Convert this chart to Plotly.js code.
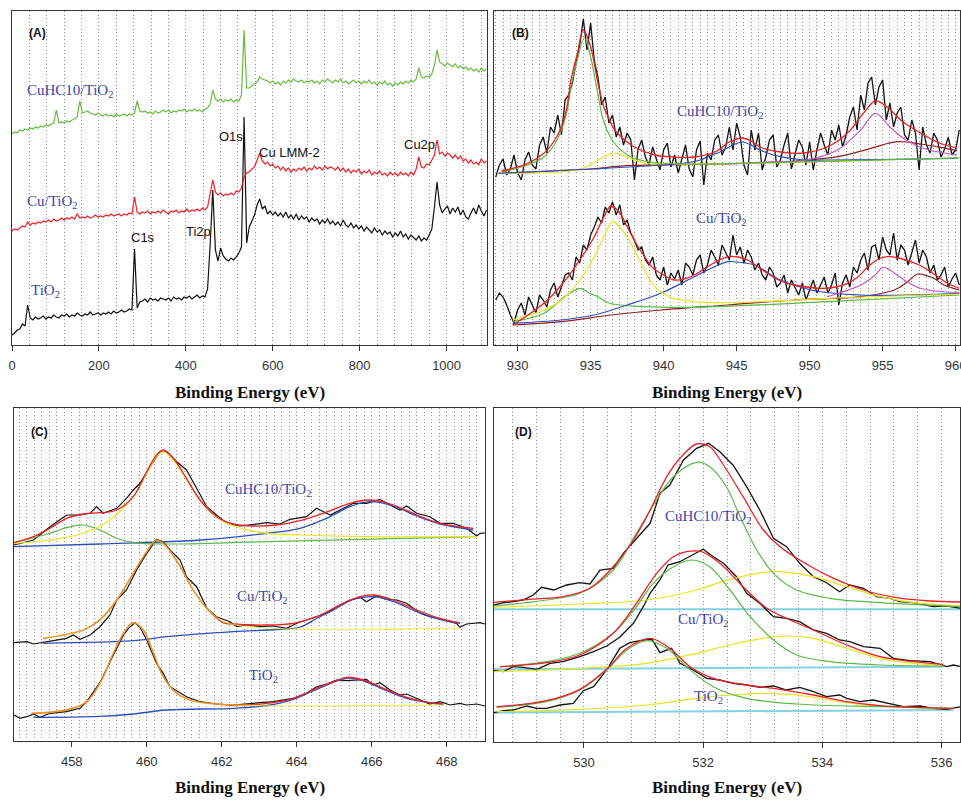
<!DOCTYPE html>
<html><head><meta charset="utf-8">
<script src="https://cdn.plot.ly/plotly-3.0.1.min.js"></script>
<style>html,body{margin:0;padding:0;background:#fff}#chart{width:961px;height:802px}</style>
</head><body><div id="chart"></div>
<script>
// ---------- Panel A: survey spectra (energy grid every 6 eV, 0..1092) ----------
const aEnergy = Array.from({length:183}, (_, i) => i * 6);
const aTiO2 = [10,12,15,16,21,19,40,27,25,28,
26,27,29,26,28,27,30,28,27,30,
29,31,28,30,29,32,30,29,31,30,
33,30,31,32,30,32,31,33,31,34,
32,33,35,33,34,36,35,96,37,43,
44,46,43,47,45,46,44,47,46,45,
47,44,48,46,47,45,48,47,49,46,
48,50,47,49,48,56,100,155,95,84,
97,89,86,84,87,85,88,92,98,228,
102,118,124,130,140,146,136,139,131,134,
130,133,129,132,128,133,127,130,126,131,
125,129,126,128,123,127,124,126,121,125,
122,126,121,124,120,123,119,125,120,118,
122,117,120,116,119,114,118,115,112,117,
113,115,110,114,111,113,108,112,109,114,
108,111,106,110,107,105,109,104,107,105,
110,116,138,163,140,132,136,139,131,137,
133,138,130,135,128,126,132,137,131,140,
134,129,135];
const aCuTiO2 = [114,116,115,117,119,118,123,120,122,121,
123,122,124,123,125,123,126,124,125,127,
125,127,126,128,126,131,127,128,127,129,
127,128,130,128,129,128,130,129,131,129,
130,131,129,131,130,132,131,148,133,131,
133,132,134,131,133,132,134,132,135,133,
131,134,133,135,132,134,133,136,133,135,
134,136,134,137,135,138,150,165,153,150,
152,149,151,150,152,150,154,153,157,168,
172,173,176,178,185,192,184,181,183,179,
181,177,179,175,178,174,177,173,176,174,
177,175,178,174,177,175,179,176,178,175,
179,176,178,177,175,178,174,177,173,176,
172,175,173,176,171,174,172,175,170,173,
171,174,170,172,169,173,170,172,169,173,
170,172,169,173,170,176,188,178,177,181,
180,185,190,205,191,193,189,192,190,187,
190,186,189,184,186,182,185,181,183,180,
186,182,184];
const aCuHC10 = [211,213,212,215,214,216,215,217,216,218,
217,219,218,220,219,221,222,235,222,223,
222,224,223,225,226,228,244,232,233,234,
232,231,230,232,230,229,231,229,230,228,
231,229,230,231,229,231,230,232,244,234,
233,234,232,233,231,234,232,233,235,233,
235,232,234,233,235,234,236,233,235,234,
236,234,235,233,236,237,241,255,246,244,
246,243,245,244,246,243,245,244,250,315,
257,257,259,261,263,268,266,265,264,262,
264,261,263,260,264,262,265,263,266,264,
263,265,262,264,263,265,262,264,261,265,
263,266,264,262,265,263,266,262,264,261,
263,265,262,264,261,264,262,265,261,263,
260,263,261,264,260,262,259,262,260,263,
261,264,262,265,263,266,277,268,267,269,
268,271,280,295,283,281,279,282,280,278,
281,277,279,276,278,275,277,274,276,273,
277,274,276];

// ---------- Panel B: Cu2p (grid every 0.25 eV, 928.5..960.25) ----------
const bEnergy = Array.from({length:128}, (_, i) => 928.5 + i * 0.25);
const bCuhcRaw = [168,180,186,170,176,190,172,165,185,193,
180,176,200,208,192,218,212,230,210,245,
250,262,282,300,326,295,322,284,268,240,
248,222,230,208,218,200,212,205,165,196,
205,188,180,198,186,175,195,202,178,190,
172,185,200,176,168,195,204,160,192,185,
205,210,190,198,218,195,222,208,180,170,
215,195,212,175,188,205,210,178,185,200,
212,176,190,205,198,180,203,175,195,212,
200,190,215,205,220,198,210,228,238,215,
250,235,262,268,240,258,265,225,242,218,
232,238,210,205,225,212,175,218,200,192,
212,205,188,196,208,190,195,215];
const bCuRaw = [45,52,48,40,30,22,35,42,30,48,
40,32,50,45,38,55,62,48,58,70,
72,65,88,82,100,95,110,118,128,122,
138,132,143,130,140,120,125,112,105,95,
98,85,80,88,70,65,78,60,72,66,
75,60,82,78,70,85,90,72,80,95,
88,80,100,92,85,110,90,98,82,95,
88,75,82,70,65,78,72,58,62,70,
52,65,58,50,62,45,55,65,52,60,
68,52,60,72,40,62,70,58,78,72,
85,92,75,98,100,85,108,95,90,112,
85,100,95,80,92,105,82,95,88,72,
80,65,70,78,58,66,72,60];
const bCuhcEnvelope = [[928.9,174],[930.7,181.7],[931.8,191.7],[932.5,204],[933.0,218],[933.4,240],[933.65,265],[934.1,292],[934.5,315],[935.0,298],[935.5,262],[935.9,238],[936.2,228],[936.6,216],[937.1,208],[938.0,198],[939.4,190],[940.7,188],[942.1,188],[943.5,193],[944.5,203],[945.4,207],[946.0,204],[946.6,198],[948.0,193],[949.6,192],[951.2,198],[952.6,212],[953.7,232],[954.5,244],[955.3,238],[956.4,223],[957.6,212],[958.9,202],[960.1,197]];
const bCuhcCu1 = [[928.9,173],[930.7,180],[931.8,188],[932.5,200],[933.0,215],[933.4,235],[933.65,258],[934.1,286],[934.56,307],[935.0,288],[935.48,252],[935.93,222],[936.62,202],[937.53,190],[938.67,184],[939.8,182],[942.1,181],[944.8,181.5],[950,183.3],[955,185.2],[960.25,187.2]];
const bCuhcCu2 = [[928.7,171.7],[932.97,173],[934.5,177],[935.2,182],[935.9,188],[936.6,192],[937.5,188],[938.67,182],[939.8,181],[944.8,181.5],[950,183],[955,185],[960.25,187]];
const bCuhcSat1 = [[928.7,171.7],[935,176],[940,180],[941.5,182],[942.5,185],[943.3,190],[943.9,193.3],[944.6,199],[945.4,203],[946.1,199],[946.6,195],[947.3,191],[948,188.3],[949.6,185],[951.2,185],[955,185.5],[960.1,186.7]];
const bCuhcCu3 = [[944.8,181.5],[947,183],[949.6,184.5],[951.9,195],[953.5,215],[954.5,231.7],[955.5,218],[956.6,205],[958,195.7],[960.1,190]];
const bCuhcSat2 = [[928.7,171.7],[935,176],[937.5,179.3],[943.9,181],[948.4,183.3],[951.9,188.3],[954.2,196.7],[956,203.3],[957.6,201],[959,197.7],[960.1,194.3]];
const bCuEnvelope = [[929.66,20],[930.5,28],[931.8,41.7],[933,60],[934.1,81.7],[935.25,108.3],[935.9,128],[936.4,139],[937,132],[937.5,118.3],[938.1,102],[938.7,88.3],[939.2,78],[939.8,71.7],[940.7,65],[941.4,66],[942.1,70],[943.2,80],[944.4,88.3],[945.1,88],[945.75,85],[947.1,71.7],[948.0,64],[948.95,60],[950.8,56.7],[951.8,58],[952.6,61.7],[953.3,68],[954,78.3],[954.6,85],[955.3,88.3],[956.1,87],[956.9,83.3],[957.5,80],[958.1,75],[958.8,68],[959.45,61.7],[960.25,56.7]];
const bCuCu2 = [[929.66,25],[931.8,35],[933,45],[934.1,61.7],[935.25,88.3],[935.9,108],[936.5,123.3],[937,118],[937.5,108.3],[938.1,92],[938.7,75],[939.2,62],[939.8,53.3],[940.6,47],[941.2,45],[943.2,42.3],[946.7,43.3],[951.2,46.7],[960.25,51]];
const bCuCu1 = [[929.66,23.3],[931.8,31.7],[933.2,48.3],[933.7,53],[934.3,56.7],[934.9,52],[935.5,48.3],[936.3,41.7],[938.7,38.3],[942.1,37.7],[951.2,43.3],[960.25,50]];
const bCuSat1 = [[929.66,21.7],[932.97,25],[935.25,30],[937.5,40],[939.8,51.7],[942.1,68.3],[943.3,77],[944.4,83.3],[945.0,83],[946.2,80],[948.0,65],[950.1,55],[953.5,50],[960.25,51.7]];
const bCuSat2 = [[929.66,20],[932.97,23.3],[936.4,30],[939.8,35],[944.4,40],[948.95,45],[953.5,48.3],[955.8,55],[956.7,63],[957.4,71],[958.1,69],[958.5,66.7],[959.2,60],[960.25,55]];
const bCuCu3 = [[951.2,48.3],[953.5,60],[954.5,70],[955.0,77.7],[955.5,75],[956.3,66.7],[957.6,56.7],[960.25,52.3]];

// ---------- Panel C: Ti2p ----------
const cCuhcRaw = [[456.46,196],[456.98,201],[457.42,214.3],[457.69,221],[457.86,226],[458.22,226],[458.49,227.7],[458.66,234.3],[458.84,227.7],[459.2,232.7],[459.46,242.7],[459.64,251],[459.82,257.7],[460.09,274.3],[460.35,289.3],[460.53,289.3],[460.8,279.3],[461.06,271],[461.33,252.7],[461.6,234.3],[461.86,226],[462.13,217.7],[462.49,215],[462.84,217],[463.2,218.3],[463.55,217],[463.82,221.7],[464.26,224.3],[464.53,232.7],[464.89,226],[465.15,231],[465.51,237.7],[465.86,237.7],[466.22,241.7],[466.49,236],[466.75,231],[466.93,235],[467.2,227.7],[467.55,224.3],[467.82,217.7],[468.18,217.7],[468.53,212.7],[468.8,205],[468.89,207.7],[469.02,208]];
const cCuhcEnvelope = [[456.46,198.3],[456.98,204.3],[457.42,212.7],[457.86,222.7],[458.31,227],[458.75,228.3],[459.2,231],[459.64,244.3],[460.0,269.3],[460.26,286],[460.44,291],[460.71,282.7],[461.06,262.7],[461.42,241],[461.86,224.3],[462.31,217],[462.84,215],[463.46,216],[464.09,220.3],[464.71,227.7],[465.42,237.7],[465.96,241],[466.58,236],[467.2,226],[467.82,217.7],[468.71,212.7]];
const cCuhcTi4 = [[456.46,197.7],[457.42,201],[458.31,207.7],[459.02,221],[459.64,244.3],[460.0,267.7],[460.26,284.3],[460.44,289.3],[460.71,281],[461.06,261],[461.42,241],[461.86,224.3],[462.31,215],[463.2,207.7],[464.09,206],[465.86,204.3],[468.8,204.3]];
const cCuhcTi3 = [[456.46,198.3],[457.42,207.7],[457.86,213.3],[458.31,216],[458.75,211],[459.2,202.7],[459.64,198.3],[460.53,197],[463.2,199.3],[468.8,204.3]];
const cCuhcTi12 = [[456.46,194.3],[458.75,197],[461.42,201],[463.2,207.7],[464.09,212.7],[464.8,222.7],[465.42,234.3],[465.96,239.3],[466.58,235],[467.2,225],[467.82,217],[468.71,211]];
const cCuRaw = [[456.46,98.3],[456.8,99.3],[456.98,97],[457.24,98.3],[457.51,100.3],[457.86,102.7],[458.04,106],[458.22,101.7],[458.49,106],[458.75,114.3],[459.02,126],[459.2,141],[459.46,151],[459.73,171],[460.0,187.7],[460.26,201.7],[460.44,199.3],[460.62,191],[460.89,181],[461.06,164.3],[461.33,154.3],[461.6,132.7],[461.86,124.3],[462.22,119.3],[462.4,114.3],[462.66,116],[463.02,114.3],[463.38,115],[463.73,112.7],[464.0,117.7],[464.26,121],[464.53,124.3],[464.8,127.7],[465.06,134.3],[465.42,141],[465.69,143.7],[465.86,139.3],[466.13,145],[466.4,141.7],[466.67,141],[466.93,137.7],[467.29,127.7],[467.55,124.3],[467.91,121],[468.26,117.7],[468.35,113.7],[468.53,117],[468.89,118.3],[469.02,117]];
const cCuTi4 = [[457.24,102.7],[458.31,111],[458.75,121],[459.2,141],[459.64,167.7],[460.0,189.3],[460.26,201],[460.53,194.3],[460.89,174.3],[461.24,151],[461.6,132.7],[462.04,119.3],[462.75,114.3],[464.09,111.7],[468.35,112.7]];
const cCuEnvelope = [[457.24,102.7],[458.31,111],[458.75,121],[459.2,141],[459.64,167.7],[460.0,189.3],[460.26,201],[460.53,194.3],[460.89,174.3],[461.24,151],[461.6,132.7],[462.04,118.3],[462.31,117],[463.2,116],[463.91,117.7],[464.53,124.3],[465.24,137.7],[465.69,144.3],[466.04,146],[466.58,141],[467.2,131],[467.82,122.7],[468.35,118.3]];
const cCuTi12 = [[457.24,97.7],[459.64,100.3],[460.53,104.3],[462.31,109.3],[463.5,111.5],[464.09,114],[464.53,122.5],[464.98,131],[465.51,141.7],[466.04,144.3],[466.58,139.3],[467.2,129.3],[467.82,121.7],[468.35,117.7]];
const cTiRaw = [[456.46,26],[456.62,22.7],[456.8,24.3],[456.98,27],[457.15,23.7],[457.42,27.7],[457.86,29.3],[458.22,32.7],[458.4,39.3],[458.75,58.3],[459.11,86],[459.38,106],[459.51,112.7],[459.69,118.3],[459.82,113.7],[460.0,101],[460.26,77.7],[460.44,67.7],[460.62,54.3],[460.89,47.7],[461.06,44.3],[461.42,39.3],[461.86,37],[462.31,36],[462.75,37.7],[463.02,38.3],[463.38,39.3],[463.64,41],[463.91,42.7],[464.26,47.7],[464.53,54.3],[464.8,57],[465.06,61],[465.33,60.3],[465.6,61],[465.86,61.7],[466.04,56],[466.22,58.3],[466.49,51],[466.75,46],[466.93,47],[467.2,42.7],[467.55,37],[467.82,39.3],[468.09,36],[468.35,37.7],[468.53,36],[468.8,37],[469.02,35]];
const cTiTi4 = [[456.93,27.7],[457.86,31],[458.4,39.3],[458.75,57.7],[459.11,87.7],[459.38,107.7],[459.64,118.3],[459.91,111],[460.18,87.7],[460.44,64.3],[460.8,47.7],[461.24,40],[461.86,37],[463.2,35.3],[467.91,36]];
const cTiEnvelope = [[456.93,27.7],[457.86,31],[458.4,39.3],[458.75,57.7],[459.11,87.7],[459.38,107.7],[459.64,118.3],[459.91,111],[460.18,87.7],[460.44,64.3],[460.8,47.7],[461.24,40],[461.86,37],[462.31,36],[463.2,37.7],[463.91,42.7],[464.53,52.7],[464.98,59.3],[465.33,63.7],[465.78,61],[466.31,52.7],[466.93,43.7],[467.55,38.3],[467.91,37]];
const cTiTi12 = [[456.98,23.7],[458.75,24.7],[459.64,27],[460.53,31],[462.31,32.7],[463.2,35.5],[463.91,41.7],[464.53,51.7],[465.33,62.7],[465.78,60],[466.31,51.7],[466.93,42.7],[467.91,36.3]];

// ---------- Panel D: O1s ----------
const dCuhcRaw = [[528.49,137],[528.65,139.3],[528.81,140.3],[528.98,142],[529.15,147],[529.29,154.7],[529.49,152],[529.71,157],[529.93,159.3],[530.1,158],[530.27,172],[530.49,173.7],[530.66,188.7],[530.88,203.7],[531.11,218.7],[531.275,248.7],[531.44,257],[531.67,282],[531.89,293.7],[532.09,298.7],[532.28,290.3],[532.5,277],[532.73,255.3],[532.95,232],[533.18,203.7],[533.4,195.3],[533.62,178.7],[533.85,165.3],[534.07,159.3],[534.29,150.3],[534.46,157],[534.69,153.7],[534.91,145.3],[535.13,143.7],[535.3,140.3],[535.53,139.3],[535.86,135.3],[536.09,136],[536.33,133.7]];
const dCuhcEnvelope = [[528.49,139.7],[529.09,142.7],[529.65,145.3],[530.1,153.7],[530.49,175.3],[530.83,202],[531.11,232],[531.39,265.3],[531.61,283.7],[531.89,298],[532.11,295.3],[532.34,277],[532.67,245.3],[533.01,212],[533.29,195.3],[533.62,182],[534.13,165.3],[534.69,152],[535.25,144.3],[535.81,141],[536.33,140]];
const dCuhcO1 = [[528.49,136],[529.37,142],[529.93,148.7],[530.49,172],[530.88,208.7],[531.22,242],[531.5,265.3],[531.89,279.7],[532.11,275.3],[532.39,255.3],[532.62,225.3],[532.9,192],[533.18,168.7],[533.57,152],[534.13,143.7],[534.97,139.3],[536.33,135.3]];
const dCuhcO2 = [[528.49,134.7],[529.93,138],[531.05,142],[531.89,152],[532.45,162.7],[533.18,170.3],[533.85,165.3],[534.41,155.3],[534.97,145.3],[535.53,139.3],[536.33,136]];
const dCuhcBase = [[528.49,132.7],[536.33,132.7]];
const dCuRaw = [[528.49,71.3],[528.65,70.3],[528.81,75.3],[528.98,74.7],[529.21,72.7],[529.43,78.7],[529.65,80.3],[529.93,85.3],[530.16,90.3],[530.38,96],[530.6,104.7],[530.83,118.7],[530.995,135.3],[531.11,148.7],[531.275,162],[531.41,177],[531.61,180.3],[531.83,187],[532.0,192.7],[532.17,185.3],[532.34,178.7],[532.56,165.3],[532.73,148.7],[532.95,138.7],[533.18,125.3],[533.4,123.7],[533.62,120.3],[533.85,112],[534.07,108.7],[534.29,102],[534.46,100.3],[534.69,95.3],[534.97,93.7],[535.19,83.7],[535.47,81.3],[535.81,80.3],[536.09,75.3],[536.2,77],[536.33,75.3]];
const dCuEnvelope = [[528.59,75.3],[529.37,79.3],[529.93,87],[530.49,108.7],[530.88,138.7],[531.22,168.7],[531.5,185.3],[531.72,190.3],[531.97,190.3],[532.28,178.7],[532.67,155.3],[533.07,133.7],[533.46,122],[533.85,112],[534.41,97],[534.97,85.3],[535.53,80.3],[536.03,77.7]];
const dCuO1 = [[528.59,75.3],[529.37,80.3],[529.93,88.7],[530.49,108.7],[530.88,135.3],[531.16,158.7],[531.5,175.3],[531.81,182],[532.11,175.3],[532.45,152],[532.79,125.3],[533.18,102],[533.57,87],[534.13,80.3],[534.97,77],[536.03,76]];
const dCuO2 = [[528.49,70.3],[529.93,73.7],[531.05,78.7],[531.89,88.7],[532.45,97],[533.12,104.7],[533.46,106],[533.85,103.7],[534.41,93.7],[534.97,83.7],[535.53,78.7],[536.03,77]];
const dCuBase = [[528.49,72.7],[536.03,75.3]];
const dTiRaw = [[528.49,29.3],[528.65,31.3],[528.81,32],[529.04,36],[529.21,33.7],[529.37,33.7],[529.6,37],[529.82,38.7],[529.99,51.3],[530.16,55.3],[530.38,72],[530.6,93.7],[530.77,99.3],[530.94,101.3],[531.14,102.7],[531.275,89.3],[531.47,93.7],[531.61,78.7],[531.83,72],[532.06,63.7],[532.28,62],[532.5,58.7],[532.73,57],[532.95,54.7],[533.18,56],[533.4,52],[533.62,54.7],[533.85,50.3],[534.07,45.3],[534.29,47],[534.41,43.7],[534.63,40.3],[534.85,42],[535.08,38.7],[535.36,35.3],[535.64,36],[535.86,33.7],[536.09,32.7],[536.33,35.3]];
const dTiEnvelope = [[528.535,35.3],[529.37,41.3],[529.93,52.7],[530.38,72.7],[530.72,93.7],[531.11,103.7],[531.44,93.7],[531.78,75.3],[532.17,63.7],[532.73,57],[533.29,52.7],[533.85,47],[534.41,40.3],[534.97,36.3],[535.53,34.7],[536.2,33.7]];
const dTiO1 = [[528.535,34.7],[529.37,40.3],[529.93,52],[530.38,72],[530.72,92],[531.05,101.3],[531.39,93.7],[531.72,75.3],[532.17,55.3],[532.73,43.7],[533.57,38],[534.97,35.3],[536.2,33.7]];
const dTiO2 = [[528.535,30.3],[529.93,32.7],[531.05,37],[531.89,43.7],[532.45,47],[533.01,48.7],[533.57,47],[534.13,42],[534.69,37],[535.53,34.3],[536.2,33.3]];
const dTiBase = [[528.49,29.3],[536.2,32]];

// ---------- styling ----------
const COL = {black:'#111111', red:'#ee2026', green:'#5cb848', agreen:'#66bb40', yellow:'#e9e31c',
  blue:'#2f4fb8', magenta:'#c75ac7', brown:'#8c1f1f', cyan:'#82d2e2', label:'#3c46aa'};

function tr(x, y, color, ax, width, shape, opacity) {
  return {x: x, y: y, type: 'scatter', mode: 'lines', xaxis: 'x' + ax, yaxis: 'y' + ax,
    line: {color: color, width: width || 1.2, shape: shape || 'linear', smoothing: 1},
    opacity: opacity == null ? 1 : opacity, hoverinfo: 'skip', showlegend: false};
}
function trp(pairs, color, ax, width, shape, opacity) {
  return tr(pairs.map(p => p[0]), pairs.map(p => p[1]), color, ax, width, shape, opacity);
}

const traces = [
  // A
  tr(aEnergy, aTiO2, COL.black, '', 1.2),
  tr(aEnergy, aCuTiO2, COL.red, '', 1.2),
  tr(aEnergy, aCuHC10, COL.agreen, '', 1.2),
  // B
  tr(bEnergy, bCuhcRaw, COL.black, '2', 1.3),
  tr(bEnergy, bCuRaw, COL.black, '2', 1.3),
  trp(bCuhcSat2, COL.brown, '2', 1.2, 'spline'),
  trp(bCuhcCu2, COL.yellow, '2', 1.2, 'spline'),
  trp(bCuhcSat1, COL.blue, '2', 1.2, 'spline'),
  trp(bCuhcCu3, COL.magenta, '2', 1.2, 'spline'),
  trp(bCuhcCu1, COL.green, '2', 1.2, 'spline'),
  trp(bCuhcEnvelope, COL.red, '2', 1.3, 'spline'),
  trp(bCuSat2, COL.brown, '2', 1.2, 'spline'),
  trp(bCuCu1, COL.green, '2', 1.2, 'spline'),
  trp(bCuSat1, COL.blue, '2', 1.2, 'spline'),
  trp(bCuCu3, COL.magenta, '2', 1.2, 'spline'),
  trp(bCuCu2, COL.yellow, '2', 1.2, 'spline'),
  trp(bCuEnvelope, COL.red, '2', 1.3, 'spline'),
  // C
  trp(cCuhcRaw, COL.black, '3', 1.2),
  trp(cCuRaw, COL.black, '3', 1.2),
  trp(cTiRaw, COL.black, '3', 1.2),
  trp(cCuhcTi12, COL.blue, '3', 1.3, 'spline'),
  trp(cCuhcTi3, COL.green, '3', 1.2, 'spline'),
  trp(cCuhcTi4, COL.yellow, '3', 1.2, 'spline'),
  trp(cCuhcEnvelope, COL.red, '3', 1.3, 'spline'),
  trp(cCuTi12, COL.blue, '3', 1.3, 'spline'),
  trp(cCuEnvelope, COL.red, '3', 1.3, 'spline'),
  trp(cCuTi4, COL.yellow, '3', 1.4, 'spline', 0.6),
  trp(cTiTi12, COL.blue, '3', 1.3, 'spline'),
  trp(cTiEnvelope, COL.red, '3', 1.3, 'spline'),
  trp(cTiTi4, COL.yellow, '3', 1.4, 'spline', 0.6),
  // D
  trp(dCuhcBase, COL.cyan, '4', 2),
  trp(dCuBase, COL.cyan, '4', 2),
  trp(dTiBase, COL.cyan, '4', 2),
  trp(dCuhcRaw, COL.black, '4', 1.3),
  trp(dCuRaw, COL.black, '4', 1.3),
  trp(dTiRaw, COL.black, '4', 1.3),
  trp(dCuhcO2, COL.yellow, '4', 1.2, 'spline'),
  trp(dCuhcO1, COL.green, '4', 1.2, 'spline'),
  trp(dCuhcEnvelope, COL.red, '4', 1.3, 'spline'),
  trp(dCuO2, COL.yellow, '4', 1.2, 'spline'),
  trp(dCuO1, COL.green, '4', 1.2, 'spline'),
  trp(dCuEnvelope, COL.red, '4', 1.3, 'spline'),
  trp(dTiO2, COL.yellow, '4', 1.2, 'spline'),
  trp(dTiO1, COL.green, '4', 1.2, 'spline'),
  trp(dTiEnvelope, COL.red, '4', 1.3, 'spline')
];

const W = 961, H = 802;
function xd(a, b) { return [a / W, b / W]; }
function yd(top, bottom) { return [1 - bottom / H, 1 - top / H]; }

const GRID = {color: '#8f8f8f', dash: '1px,2.5px'};
function xaxis(domain, range, dtick, minorDtick, anchor) {
  return {domain: domain, range: range, anchor: anchor, tick0: 0, dtick: dtick,
    showline: true, mirror: true, linecolor: '#333', linewidth: 1.3,
    ticks: 'outside', ticklen: 5, tickwidth: 1, tickcolor: '#333', ticklabelstandoff: 3,
    ticklabeloverflow: 'allow',
    tickfont: {family: 'Liberation Sans, Arial, sans-serif', size: 13, color: '#333'},
    showgrid: true, gridcolor: GRID.color, griddash: GRID.dash, gridwidth: 1, zeroline: false,
    minor: {dtick: minorDtick, tick0: 0, showgrid: true, gridcolor: GRID.color, griddash: GRID.dash, gridwidth: 1, ticks: ''},
    fixedrange: true};
}
function yaxis(domain, range, anchor) {
  return {domain: domain, range: range, anchor: anchor, showline: true, mirror: true,
    linecolor: '#333', linewidth: 1.3, ticks: '', showticklabels: false, showgrid: false,
    zeroline: false, fixedrange: true};
}

function P(px, py) { return {x: px / W, y: 1 - py / H}; }
function ann(text, px, py, opt) {
  const p = P(px, py);
  return Object.assign({text: text, x: p.x, y: p.y, xref: 'paper', yref: 'paper',
    xanchor: 'left', yanchor: 'middle', showarrow: false,
    font: {family: 'Liberation Serif, Times New Roman, serif', size: 15, color: COL.label}}, opt || {});
}
const sansBlack = {family: 'Liberation Sans, Arial, sans-serif', size: 13, color: '#111'};
const panelFont = {family: 'Liberation Sans, Arial, sans-serif', size: 12, color: '#111'};
const titleFont = {family: 'Liberation Serif, Times New Roman, serif', size: 17, color: '#111'};

const annotations = [
  ann('<b>(A)</b>', 27, 33, {font: panelFont}),
  ann('<b>(B)</b>', 510, 33, {font: panelFont}),
  ann('<b>(C)</b>', 29, 432, {font: panelFont}),
  ann('<b>(D)</b>', 513, 432, {font: panelFont}),
  ann('CuHC10/TiO<sub>2</sub>', 25, 91),
  ann('Cu/TiO<sub>2</sub>', 25, 202),
  ann('TiO<sub>2</sub>', 29, 291),
  ann('O1s', 217, 136, {font: sansBlack}),
  ann('Cu LMM-2', 257, 153, {font: sansBlack}),
  ann('Cu2p', 402, 144, {font: sansBlack}),
  ann('C1s', 129, 237, {font: sansBlack}),
  ann('Ti2p', 184, 232, {font: sansBlack}),
  ann('CuHC10/TiO<sub>2</sub>', 675, 112),
  ann('Cu/TiO<sub>2</sub>', 694, 219),
  ann('CuHC10/TiO<sub>2</sub>', 223, 490),
  ann('Cu/TiO<sub>2</sub>', 235, 597),
  ann('TiO<sub>2</sub>', 247, 676),
  ann('CuHC10/TiO<sub>2</sub>', 663, 517),
  ann('Cu/TiO<sub>2</sub>', 676, 620),
  ann('TiO<sub>2</sub>', 692, 697),
  ann('<b>Binding Energy (eV)</b>', 250, 393, {xanchor: 'center', font: titleFont}),
  ann('<b>Binding Energy (eV)</b>', 727, 393, {xanchor: 'center', font: titleFont}),
  ann('<b>Binding Energy (eV)</b>', 250, 787, {xanchor: 'center', font: titleFont}),
  ann('<b>Binding Energy (eV)</b>', 727, 787, {xanchor: 'center', font: titleFont})
];

const layout = {
  width: W, height: H, margin: {l: 0, r: 0, t: 0, b: 0},
  paper_bgcolor: '#ffffff', plot_bgcolor: '#ffffff', showlegend: false,
  xaxis: xaxis(xd(12, 487), [0, 1093], 200, 40, 'y'),
  yaxis: yaxis(yd(11, 345), [0, 334], 'x'),
  xaxis2: xaxis(xd(494, 960), [928.38, 960.3], 5, 0.5, 'y2'),
  yaxis2: yaxis(yd(11, 345), [0, 334], 'x2'),
  xaxis3: xaxis(xd(14, 485), [456.46, 469.02], 2, 0.2, 'y3'),
  yaxis3: yaxis(yd(408, 741), [0, 333], 'x3'),
  xaxis4: xaxis(xd(494, 960), [528.49, 536.31], 2, 0.4, 'y4'),
  yaxis4: yaxis(yd(408, 742), [0, 334], 'x4'),
  annotations: annotations
};

Plotly.newPlot('chart', traces, layout, {staticPlot: true, displayModeBar: false});
</script></body></html>
